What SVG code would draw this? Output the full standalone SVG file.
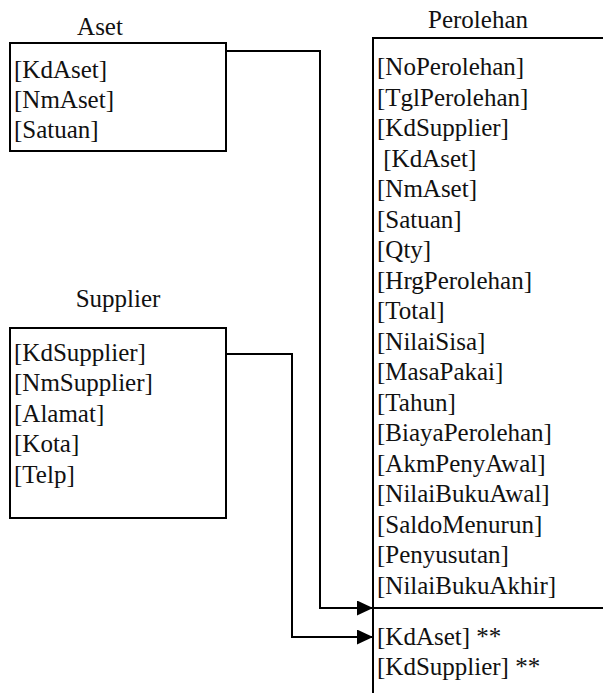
<svg xmlns="http://www.w3.org/2000/svg" width="603" height="693" viewBox="0 0 603 693">
<style>
.tx{font-family:'Liberation Serif','DejaVu Serif',serif;font-size:25px;fill:#111}
.t{text-anchor:middle}
.box{fill:#fff;stroke:#000;stroke-width:2}
.ln{fill:none;stroke:#000;stroke-width:2}
</style>
<defs>
<marker id="arr" markerWidth="16" markerHeight="15" refX="16" refY="7.5" orient="auto" markerUnits="userSpaceOnUse">
<path d="M0,0 L16,7.5 L0,15 Z" fill="#000"/>
</marker>
</defs>
<rect width="603" height="693" fill="#fff"/>
<g id="aset" class="tx">
<text class="t" x="100" y="35">Aset</text>
<rect class="box" x="10" y="43" width="216" height="108"/>
<text x="14" y="78">[KdAset]</text>
<text x="14" y="108">[NmAset]</text>
<text x="14" y="138">[Satuan]</text>
</g>
<g id="supplier" class="tx">
<text class="t" x="118" y="307">Supplier</text>
<rect class="box" x="10" y="328" width="216" height="190"/>
<text x="14" y="361">[KdSupplier]</text>
<text x="14" y="391">[NmSupplier]</text>
<text x="14" y="422">[Alamat]</text>
<text x="14" y="452">[Kota]</text>
<text x="14" y="483">[Telp]</text>
</g>
<g id="perolehan" class="tx">
<text class="t" x="478" y="28">Perolehan</text>
<path class="ln" d="M603,38 H373 V693 M373,608 H603"/>
<text x="377" y="75">[NoPerolehan]</text>
<text x="377" y="105.5">[TglPerolehan]</text>
<text x="377" y="136">[KdSupplier]</text>
<text x="377" y="166.5" xml:space="preserve"> [KdAset]</text>
<text x="377" y="197">[NmAset]</text>
<text x="377" y="227.5">[Satuan]</text>
<text x="377" y="258">[Qty]</text>
<text x="377" y="288.5">[HrgPerolehan]</text>
<text x="377" y="319">[Total]</text>
<text x="377" y="349.5">[NilaiSisa]</text>
<text x="377" y="380">[MasaPakai]</text>
<text x="377" y="410.5">[Tahun]</text>
<text x="377" y="441">[BiayaPerolehan]</text>
<text x="377" y="471.5">[AkmPenyAwal]</text>
<text x="377" y="502">[NilaiBukuAwal]</text>
<text x="377" y="532.5">[SaldoMenurun]</text>
<text x="377" y="563">[Penyusutan]</text>
<text x="377" y="593.5">[NilaiBukuAkhir]</text>
<text x="377" y="645">[KdAset] **</text>
<text x="377" y="675">[KdSupplier] **</text>
</g>
<g id="connectors">
<path class="ln" d="M226,51 H320 V608 H373" marker-end="url(#arr)"/>
<path class="ln" d="M226,354 H292 V637 H373" marker-end="url(#arr)"/>
</g>
</svg>
